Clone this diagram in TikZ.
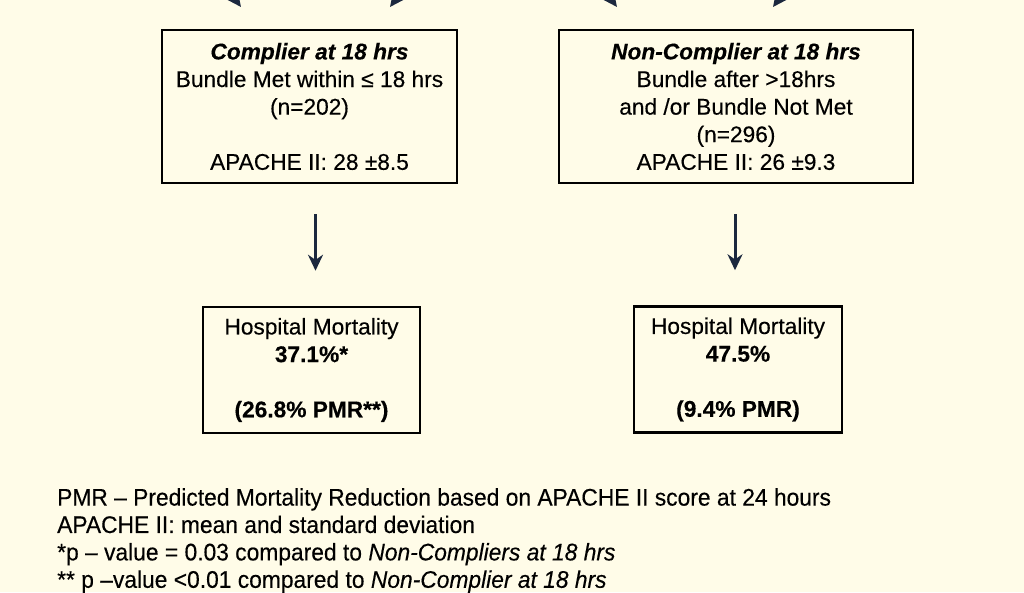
\documentclass[tikz,border=0pt]{standalone}
\usepackage{fontspec}
\setmainfont[FakeBold=0.3]{Liberation Sans}
\newfontfamily\narrowfont[FakeStretch=0.95,FakeBold=0.3]{Liberation Sans}
\usetikzlibrary{arrows.meta,positioning}
\definecolor{bgcol}{RGB}{255,252,232}
\definecolor{arrcol}{RGB}{28,40,62}

\begin{document}
\begin{tikzpicture}[x=1pt,y=1pt,
  font=\fontsize{22.7}{27.6}\selectfont,
  box/.style={draw,line width=2.5pt,fill=bgcol,align=center,inner sep=0pt},
  grp/.style={box,minimum height=153pt},
  res/.style={box,minimum height=126pt},
  flow/.style={->,line width=3pt,arrcol},
  >={Stealth[length=16pt,width=15pt]}]

% page
\fill[bgcol] (0,0) rectangle (1024,592);
\clip (0,0) rectangle (1024,592);

% incoming arrows, cut by the top edge
\coordinate (inA) at (196,645);  \coordinate (tipA) at (241,585);
\coordinate (inB) at (435,645);  \coordinate (tipB) at (390,585);
\coordinate (inC) at (572,645);  \coordinate (tipC) at (617,585);
\coordinate (inD) at (818,645);  \coordinate (tipD) at (773,585);
\draw[flow] (inA) -- (tipA); \draw[flow] (inB) -- (tipB);
\draw[flow] (inC) -- (tipC); \draw[flow] (inD) -- (tipD);

% group row
\node[grp,minimum width=295pt] (comp) at (309.5,485.5)
  {\textbf{\textit{Complier at 18 hrs}}\\Bundle Met within ≤ 18 hrs\\(n=202)\\\mbox{}\\APACHE II: 28 ±8.5};
\node[grp,minimum width=354pt] (noncomp) at (736,485.5)
  {\textbf{\textit{Non-Complier at 18 hrs}}\\Bundle after >18hrs\\and /or Bundle Not Met\\(n=296)\\APACHE II: 26 ±9.3};

% mortality row
\node[res,minimum width=217pt] (mortA) at (311.5,222)
  {Hospital Mortality\\\textbf{37.1\%*}\\\mbox{}\\\textbf{(26.8\% PMR**)}};
\node[res,minimum width=208pt] (mortB) at (738,222.5)
  {Hospital Mortality\\\textbf{47.5\%}\\\mbox{}\\\textbf{(9.4\% PMR)}};

\draw[flow,shorten <=30pt,shorten >=35pt] ([xshift=6pt]comp.south) -- ([xshift=4pt]mortA.north);
\draw[flow,shorten <=30pt,shorten >=35pt] ([xshift=-1pt]noncomp.south) -- ([xshift=-3pt]mortB.north);

% notes
\node[anchor=north west,align=left,inner sep=0pt,
  font=\narrowfont\fontsize{24}{27.4}\selectfont] (notes) at (57,104)
  {PMR – Predicted Mortality Reduction based on APACHE II score at 24 hours\\
   APACHE II: mean and standard deviation\\
   *p – value = 0.03 compared to \textit{Non-Compliers at 18 hrs}\\
   ** p –value <0.01 compared to \textit{Non-Complier at 18 hrs}};
\end{tikzpicture}
\end{document}
